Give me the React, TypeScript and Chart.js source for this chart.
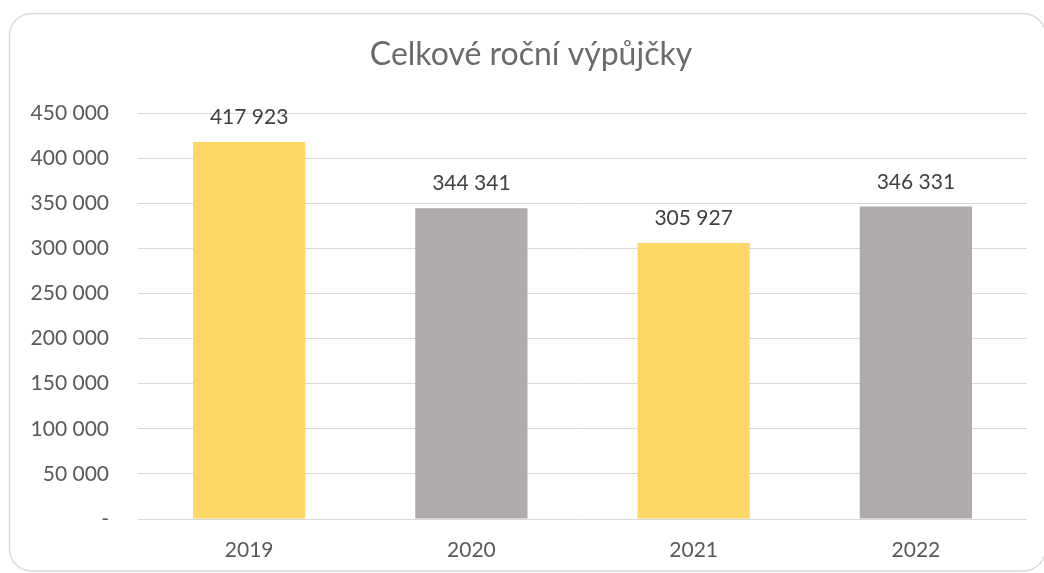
import React, { useEffect, useRef } from "react";
import { Chart, registerables } from "chart.js";

Chart.register(...registerables);

const TITLE = "Celkové roční výpůjčky";
const YEARS = ["2019", "2020", "2021", "2022"];
const LOANS = [417923, 344341, 305927, 346331];
const BAR_COLORS = ["#FDD865", "#AFABAB", "#FDD865", "#AFABAB"];
const Y_MIN = 0;
const Y_MAX = 450000;
const Y_STEP = 50000;

const FONT = "Lato, 'Open Sans', sans-serif";

function fmt(v: number): string {
  if (v === 0) return "-";
  const s = Math.round(v).toString();
  return s.replace(/\B(?=(\d{3})+(?!\d))/g, " ");
}

const framePlugin = {
  id: "frame",
  beforeDraw(chart: any) {
    const ctx = chart.ctx;
    const x = 9.5, y = 13.5, w = 1036, h = 557.5, r = 22;
    ctx.save();
    ctx.fillStyle = "#ffffff";
    ctx.fillRect(0, 0, chart.width, chart.height);
    ctx.beginPath();
    ctx.moveTo(x + r, y);
    ctx.lineTo(x + w - r, y);
    ctx.arcTo(x + w, y, x + w, y + r, r);
    ctx.lineTo(x + w, y + h - r);
    ctx.arcTo(x + w, y + h, x + w - r, y + h, r);
    ctx.lineTo(x + r, y + h);
    ctx.arcTo(x, y + h, x, y + h - r, r);
    ctx.lineTo(x, y + r);
    ctx.arcTo(x, y, x + r, y, r);
    ctx.closePath();
    ctx.strokeStyle = "#D9D9D9";
    ctx.lineWidth = 1.3;
    ctx.stroke();
    // chart title
    ctx.font = `32px ${FONT}`;
    ctx.fillStyle = "#6B6B6B";
    ctx.textAlign = "center";
    ctx.textBaseline = "alphabetic";
    ctx.fillText(TITLE, 531, 65);
    ctx.restore();
  },
};

const labelPlugin = {
  id: "barLabels",
  afterDatasetsDraw(chart: any) {
    const ctx = chart.ctx;
    const meta = chart.getDatasetMeta(0);
    const data = chart.data.datasets[0].data as number[];
    ctx.save();
    ctx.font = `21px ${FONT}`;
    ctx.fillStyle = "#404040";
    ctx.textAlign = "center";
    ctx.textBaseline = "alphabetic";
    meta.data.forEach((el: any, i: number) => {
      ctx.fillText(fmt(data[i]), el.x, el.y - 18);
    });
    ctx.restore();
  },
};

export default function App() {
  const ref = useRef<HTMLCanvasElement | null>(null);

  useEffect(() => {
    if (!ref.current) return;
    const chart = new Chart(ref.current, {
      type: "bar",
      data: {
        labels: YEARS,
        datasets: [
          {
            data: LOANS,
            backgroundColor: BAR_COLORS,
            borderWidth: 0,
            categoryPercentage: 1,
            barPercentage: 0.505,
          },
        ],
      },
      options: {
        animation: false,
        responsive: false,
        maintainAspectRatio: false,
        layout: { padding: { top: 113, left: 0, right: 17, bottom: 0 } },
        plugins: {
          legend: { display: false },
          tooltip: { enabled: false },
          title: { display: false },
        },
        scales: {
          x: {
            grid: { display: false, drawTicks: false },
            border: { display: false },
            ticks: {
              color: "#595959",
              font: { family: FONT, size: 21 },
              padding: 19,
            },
            afterFit(scale: any) {
              scale.height = 54;
            },
          },
          y: {
            min: Y_MIN,
            max: Y_MAX,
            grid: { color: "#D9D9D9", lineWidth: 1, drawTicks: false },
            border: { display: false },
            ticks: {
              stepSize: Y_STEP,
              color: "#595959",
              font: { family: FONT, size: 21 },
              padding: 29,
              callback: (v: any) => fmt(Number(v)),
            },
            afterFit(scale: any) {
              scale.width = 138;
            },
          },
        },
      },
      plugins: [framePlugin, labelPlugin],
    });
    return () => chart.destroy();
  }, []);

  return (
    <div style={{ position: "fixed", left: 0, top: 0, width: 1044, height: 573, background: "#fff" }}>
      <canvas ref={ref} width={1044} height={573} style={{ display: "block" }} />
    </div>
  );
}
